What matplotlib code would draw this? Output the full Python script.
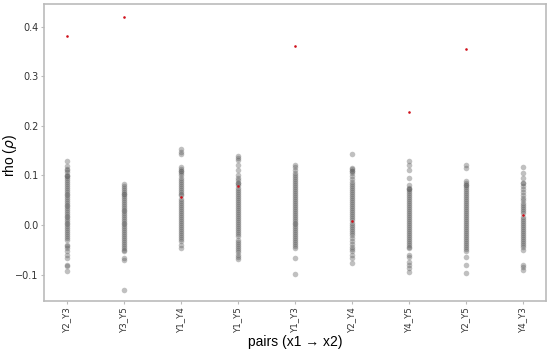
import matplotlib.pyplot as plt

# pairs on the x axis
pairs = ["Y2_Y3", "Y3_Y5", "Y1_Y4", "Y1_Y5", "Y1_Y3", "Y2_Y4", "Y4_Y5", "Y2_Y5", "Y4_Y3"]

# observed rho per pair (red marks)
observed = [0.380, 0.420, 0.057, 0.078, 0.361, 0.008, 0.228, 0.355, 0.020]

# null / resampled rho values per pair (grey marks)
null_Y2_Y3 = [0.128, 0.118, 0.113, 0.110, 0.106, 0.100, 0.099, 0.099, 0.095, 0.090,
              0.086, 0.082, 0.078, 0.074, 0.070, 0.066, 0.063, 0.060, 0.056, 0.052,
              0.049, 0.045, 0.041, 0.038, 0.034, 0.030, 0.027, 0.023, 0.019, 0.016,
              0.012, 0.008, 0.005, 0.001, -0.003, -0.007, -0.010, -0.014, -0.018,
              -0.022, -0.026, -0.030, -0.040, -0.043, -0.047, -0.053, -0.060, -0.066,
              -0.080, -0.083, -0.092]
null_Y3_Y5 = [0.082, 0.078, 0.074, 0.070, 0.066, 0.063, 0.063, 0.059, 0.055, 0.051,
              0.047, 0.043, 0.039, 0.035, 0.031, 0.028, 0.024, 0.020, 0.016, 0.012,
              0.009, 0.005, 0.001, -0.003, -0.006, -0.010, -0.014, -0.018, -0.022,
              -0.026, -0.030, -0.034, -0.038, -0.042, -0.046, -0.050, -0.053, -0.066,
              -0.070, -0.132]
null_Y1_Y4 = [0.153, 0.148, 0.144, 0.116, 0.113, 0.109, 0.109, 0.104, 0.100, 0.095,
              0.091, 0.087, 0.083, 0.079, 0.075, 0.071, 0.067, 0.063, 0.060, 0.052,
              0.048, 0.044, 0.040, 0.036, 0.032, 0.028, 0.024, 0.020, 0.016, 0.012,
              0.008, 0.004, 0.000, -0.004, -0.008, -0.012, -0.016, -0.020, -0.024,
              -0.028, -0.032, -0.040, -0.047]
null_Y1_Y5 = [0.140, 0.135, 0.130, 0.120, 0.110, 0.100, 0.095, 0.090, 0.085, 0.085,
              0.081, 0.074, 0.070, 0.066, 0.062, 0.058, 0.054, 0.050, 0.046, 0.042,
              0.038, 0.034, 0.030, 0.026, 0.022, 0.018, 0.014, 0.010, 0.006, 0.002,
              -0.002, -0.006, -0.010, -0.014, -0.018, -0.022, -0.030, -0.034, -0.038,
              -0.042, -0.046, -0.050, -0.055, -0.060, -0.065, -0.069]
null_Y1_Y3 = [0.120, 0.116, 0.110, 0.105, 0.101, 0.097, 0.093, 0.089, 0.085, 0.081,
              0.077, 0.073, 0.069, 0.065, 0.061, 0.057, 0.053, 0.049, 0.045, 0.041,
              0.037, 0.033, 0.029, 0.025, 0.021, 0.017, 0.013, 0.009, 0.005, 0.001,
              -0.003, -0.007, -0.011, -0.015, -0.019, -0.023, -0.027, -0.031, -0.035,
              -0.039, -0.043, -0.047, -0.067, -0.098]
null_Y2_Y4 = [0.143, 0.115, 0.112, 0.109, 0.109, 0.104, 0.098, 0.092, 0.086, 0.082,
              0.078, 0.074, 0.070, 0.066, 0.062, 0.058, 0.054, 0.050, 0.046, 0.042,
              0.038, 0.034, 0.030, 0.026, 0.022, 0.018, 0.014, 0.010, 0.004, 0.000,
              -0.004, -0.008, -0.012, -0.016, -0.020, -0.026, -0.032, -0.038, -0.044,
              -0.048, -0.052, -0.060, -0.066, -0.077]
null_Y4_Y5 = [0.128, 0.120, 0.110, 0.094, 0.080, 0.075, 0.072, 0.072, 0.068, 0.064,
              0.060, 0.056, 0.052, 0.048, 0.044, 0.040, 0.036, 0.032, 0.028, 0.024,
              0.020, 0.016, 0.012, 0.008, 0.004, 0.000, -0.004, -0.008, -0.012, -0.016,
              -0.020, -0.024, -0.028, -0.032, -0.036, -0.040, -0.044, -0.047, -0.060,
              -0.065, -0.075, -0.080, -0.087, -0.094]
null_Y2_Y5 = [0.121, 0.115, 0.089, 0.085, 0.080, 0.080, 0.076, 0.072, 0.068, 0.064,
              0.060, 0.056, 0.052, 0.048, 0.044, 0.040, 0.036, 0.032, 0.028, 0.024,
              0.020, 0.016, 0.012, 0.008, 0.004, 0.000, -0.004, -0.008, -0.012, -0.016,
              -0.020, -0.024, -0.028, -0.032, -0.036, -0.040, -0.044, -0.049, -0.053,
              -0.065, -0.080, -0.096]
null_Y4_Y3 = [0.116, 0.105, 0.095, 0.085, 0.084, 0.078, 0.072, 0.066, 0.060, 0.055,
              0.050, 0.045, 0.040, 0.036, 0.032, 0.028, 0.024, 0.016, 0.012, 0.008,
              0.004, 0.000, -0.004, -0.008, -0.012, -0.016, -0.020, -0.024, -0.028,
              -0.032, -0.036, -0.040, -0.045, -0.050, -0.080, -0.085, -0.090]

null_values = [null_Y2_Y3, null_Y3_Y5, null_Y1_Y4, null_Y1_Y5, null_Y1_Y3,
               null_Y2_Y4, null_Y4_Y5, null_Y2_Y5, null_Y4_Y3]

fig = plt.figure(figsize=(5.5, 3.54), dpi=100)
ax = fig.add_axes([0.08, 0.15, 0.912, 0.839])

# grey null distributions
for i, vals in enumerate(null_values):
    ax.scatter([i] * len(vals), vals, s=16, color='#5a5a5a', alpha=0.38,
               linewidths=0, zorder=2)

# observed values
ax.scatter(range(len(pairs)), observed, s=3.5, color='#d0101a', linewidths=0, zorder=3)

ax.set_xlim(-0.4, len(pairs) - 0.6)
ax.set_ylim(-0.153, 0.4456)
ax.set_xticks(range(len(pairs)))
ax.set_xticklabels(pairs, rotation=90, fontsize=6.2, color='#333333')
ax.set_yticks([-0.1, 0.0, 0.1, 0.2, 0.3, 0.4])
ax.set_yticklabels(['\u22120.1', '0.0', '0.1', '0.2', '0.3', '0.4'], fontsize=7,
                   color='#333333')
ax.tick_params(length=2, width=0.8, color='#bbbbbb', pad=2)

for sp in ax.spines.values():
    sp.set_color('#bbbbbb')
    sp.set_linewidth(1.2)

ax.set_ylabel(r'rho ($\rho$)', fontsize=10, family='Liberation Sans')
ax.yaxis.set_label_coords(-0.05, 0.49)
ax.set_xlabel('pairs (x1 \u2192 x2)', fontsize=10, family='Liberation Sans', labelpad=2)

fig.savefig('out.png', dpi=100)
